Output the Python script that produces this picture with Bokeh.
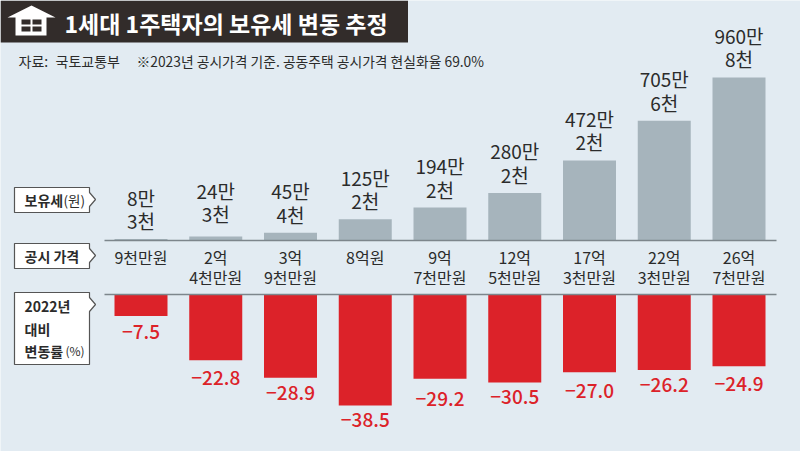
from bokeh.plotting import figure
from bokeh.embed import file_html
from bokeh.resources import INLINE
from bokeh.models import Range1d, ColumnDataSource
from bokeh.core.properties import value

title = "1세대 1주택자의 보유세 변동 추정"
source_head = "자료:"
source_note = "국토교통부"
footnote = "※2023년 공시가격 기준. 공동주택 공시가격 현실화율 69.0%"
tax_man = [8.3, 24.3, 45.4, 125.2, 194.2, 280.2, 472.2, 705.6, 960.8]
tax_labels = ["8만\n3천", "24만\n3천", "45만\n4천", "125만\n2천", "194만\n2천", "280만\n2천", "472만\n2천", "705만\n6천", "960만\n8천"]
price_labels = ["9천만원", "2억\n4천만원", "3억\n9천만원", "8억원", "9억\n7천만원", "12억\n5천만원", "17억\n3천만원", "22억\n3천만원", "26억\n7천만원"]
change = [-7.5, -22.8, -28.9, -38.5, -29.2, -30.5, -27.0, -26.2, -24.9]
change_labels = ["−7.5", "−22.8", "−28.9", "−38.5", "−29.2", "−30.5", "−27.0", "−26.2", "−24.9"]
tax_gap = [5, 9, 5, 5, 5, 5, 5, 5, 5]
change_gap = [9, 11, 8, 7, 13, 8, 12, 8, 11]

BG, DARK, GREY, RED, INK = "#e2ebf2", "#322c2a", "#a6b4bc", "#dc2229", "#2b2b2b"
FONT = value("Noto Sans CJK KR")
FONT_M = value("Noto Sans CJK KR Medium")

L, R, T, B = 0, 800, 0, 451
p = figure(width=R - L, height=B - T, output_backend="svg", toolbar_location=None,
           x_range=Range1d(L, R), y_range=Range1d(B, T), min_border=0,
           background_fill_color=BG, border_fill_color=BG, outline_line_color=None)
p.axis.visible = False
p.grid.visible = False

x0, dx = 140.5, 74.75
p.extra_x_ranges["cat"] = Range1d((L - x0) / dx, (R - x0) / dx)
top0, tscale = 240, 163 / 960.8
p.extra_y_ranges["tax"] = Range1d((top0 - B) / tscale, (top0 - T) / tscale)
low0, cscale = 294, 111 / 38.5
p.extra_y_ranges["chg"] = Range1d((low0 - B) / cscale, (low0 - T) / cscale)

idx = list(range(len(tax_man)))
src = ColumnDataSource(dict(i=idx, tax=tax_man, tl=tax_labels, pl=price_labels, ch=change, cl=change_labels,
                            gap=[-g for g in tax_gap], cgap=change_gap, pri=[240] * len(idx)))

# title band and house icon
p.quad(left=[0], right=[407.5], top=[0], bottom=[42], fill_color=DARK, line_color=None)
p.patch([7, 31, 55, 46, 46, 15, 15], [17, 5, 17, 17, 35, 35, 17], fill_color="white", line_color=None)
p.quad(left=[21, 32, 21, 32], right=[30, 41, 30, 41], top=[19, 19, 26, 26], bottom=[24, 24, 31, 31], fill_color=DARK, line_color=None)
p.text([64], [22], text=[title], text_font=FONT, text_font_style="bold", text_font_size="23px", text_color="white", text_baseline="middle")
p.text([18], [60], text=[source_head], text_font=FONT, text_font_size="14px", text_color=INK, text_baseline="middle")
p.text([55], [60], text=[source_note], text_font=FONT, text_font_size="14px", text_color=INK, text_baseline="middle")
p.text([136], [60], text=[footnote], text_font=FONT, text_font_size="13.8px", text_color=INK, text_baseline="middle")

# callout boxes
for y0, y1, cy in [(187, 212, 199), (243, 268, 255), (292, 364, 304)]:
    p.patch([14, 89, 89, 95, 89, 89, 14], [y0, y0, cy - 7, cy, cy + 7, y1, y1], fill_color="white", line_color="#555555", line_width=1.2)
p.text([24], [199], text=["보유세"], text_font=FONT, text_font_style="bold", text_font_size="14px", text_color=INK, text_baseline="middle")
p.text([63], [199], text=["(원)"], text_font=FONT, text_font_size="13.5px", text_color=INK, text_baseline="middle")
p.text([24], [255], text=["공시 가격"], text_font=FONT, text_font_style="bold", text_font_size="14px", text_color=INK, text_baseline="middle")
p.text([24, 24, 24], [305, 328, 350], text=["2022년", "대비", "변동률"], text_font=FONT, text_font_style="bold", text_font_size="14px", text_color=INK, text_baseline="middle")
p.text([65], [350], text=["(%)"], text_font=FONT, text_font_size="12px", text_color=INK, text_baseline="middle")

# bars
w = 53 / dx
p.vbar(x="i", top="tax", bottom=0, width=w, source=src, x_range_name="cat", y_range_name="tax", fill_color=GREY, line_color=None)
p.vbar(x="i", top=0, bottom="ch", width=w, source=src, x_range_name="cat", y_range_name="chg", fill_color=RED, line_color=None)
# rules
p.segment([104, 104], [240, 294], [776, 776], [240, 294], line_color="#7d868c", line_width=1.6)

# labels
p.text(x="i", y="tax", text="tl", y_offset="gap", source=src, x_range_name="cat", y_range_name="tax", text_font=FONT, text_font_size="19px", text_color=INK, text_align="center", text_baseline="bottom", text_line_height=0.87)
p.text(x="i", y="pri", text="pl", y_offset=4, source=src, x_range_name="cat", text_font=FONT, text_font_size="16px", text_color=INK, text_align="center", text_baseline="top", text_line_height=0.84)
p.text(x="i", y="ch", text="cl", y_offset="cgap", source=src, x_range_name="cat", y_range_name="chg", text_font=FONT_M, text_font_size="19px", text_color=RED, text_align="center", text_baseline="top")

open("out.html", "w").write(file_html(p, INLINE))
